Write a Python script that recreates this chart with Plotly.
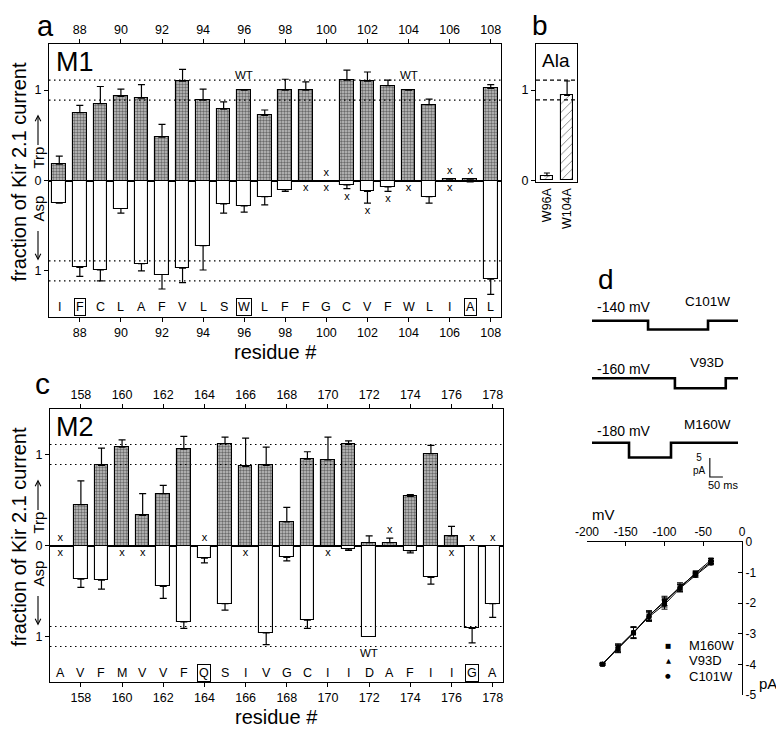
import plotly.graph_objects as go

# ---------------- data ----------------
# panel a : M1 (Trp up, Asp down), fraction of Kir2.1 current
m1_residue = [87, 88, 89, 90, 91, 92, 93, 94, 95, 96, 97, 98, 99, 100, 101, 102, 103, 104, 105, 106, 107, 108]
m1_letters = ["I", "F", "C", "L", "A", "F", "V", "L", "S", "W", "L", "F", "F", "G", "C", "V", "F", "W", "L", "I", "A", "L"]
m1_boxed = [88, 96, 107]
m1_ticks = [88, 90, 92, 94, 96, 98, 100, 102, 104, 106, 108]
m1_trp = [0.18, 0.75, 0.85, 0.93, 0.91, 0.48, 1.10, 0.89, 0.79, 1.00, 0.72, 1.00, 1.00, 0.0, 1.11, 1.10, 1.05, 1.00, 0.84, 0.015, 0.015, 1.02]
m1_trp_err = [0.09, 0.08, 0.19, 0.08, 0.15, 0.14, 0.13, 0.12, 0.08, 0.0, 0.06, 0.12, 0.09, 0.0, 0.11, 0.10, 0.06, 0.0, 0.06, 0.0, 0.0, 0.04]
m1_trp_none = [100, 106, 107]
m1_asp = [0.25, 0.96, 0.99, 0.31, 0.92, 1.04, 0.97, 0.72, 0.26, 0.28, 0.18, 0.10, 0.0, 0.0, 0.05, 0.12, 0.07, 0.0, 0.18, 0.0, 0.015, 1.09]
m1_asp_err = [0.0, 0.10, 0.12, 0.05, 0.08, 0.16, 0.16, 0.27, 0.10, 0.07, 0.09, 0.02, 0.0, 0.0, 0.04, 0.13, 0.05, 0.0, 0.07, 0.0, 0.0, 0.17]
m1_asp_none = [99, 100, 101, 102, 103, 104, 106]
m1_wt = [96, 104]

# panel c : M2
m2_residue = [157, 158, 159, 160, 161, 162, 163, 164, 165, 166, 167, 168, 169, 170, 171, 172, 173, 174, 175, 176, 177, 178]
m2_letters = ["A", "V", "F", "M", "V", "V", "F", "Q", "S", "I", "V", "G", "C", "I", "I", "D", "A", "F", "I", "I", "G", "A"]
m2_boxed = [164, 177]
m2_ticks = [158, 160, 162, 164, 166, 168, 170, 172, 174, 176, 178]
m2_trp = [0.0, 0.45, 0.88, 1.08, 0.33, 0.57, 1.06, 0.0, 1.12, 0.87, 0.88, 0.26, 0.95, 0.94, 1.11, 0.03, 0.03, 0.54, 1.01, 0.105, 0.0, 0.0]
m2_trp_err = [0.0, 0.26, 0.19, 0.08, 0.24, 0.09, 0.14, 0.0, 0.07, 0.31, 0.20, 0.16, 0.08, 0.25, 0.04, 0.075, 0.05, 0.02, 0.09, 0.105, 0.0, 0.0]
m2_trp_none = [157, 164, 173, 177, 178]
m2_asp = [0.0, 0.37, 0.38, 0.0, 0.0, 0.45, 0.84, 0.14, 0.64, 0.0, 0.96, 0.13, 0.82, 0.0, 0.04, 1.00, 0.01, 0.06, 0.35, 0.0, 0.91, 0.64]
m2_asp_err = [0.0, 0.09, 0.10, 0.0, 0.0, 0.13, 0.07, 0.05, 0.07, 0.0, 0.13, 0.04, 0.09, 0.0, 0.015, 0.0, 0.0, 0.02, 0.075, 0.0, 0.16, 0.15]
m2_asp_none = [157, 160, 161, 166, 170, 176]
m2_wt = [172]

wt_band = [0.89, 1.11]

# panel b : Ala mutants
ala_labels = ["W96A", "W104A"]
ala_values = [0.05, 0.94]
ala_err = [0.03, 0.16]

# panel d : single channel recordings
rec_names = ["C101W", "V93D", "M160W"]
rec_voltage = ["-140 mV", "-160 mV", "-180 mV"]
rec_open_ms = [215, 318, 142]
rec_close_ms = [445, 513, 303]
rec_amp_pA = [2.3, 2.6, 3.9]
rec_length_ms = 560
scale_ms = 50
scale_pA = 5

# panel d : I-V relation
iv_mv = [-180, -160, -140, -120, -100, -80, -60, -40]
iv_m160w = [-4.00, -3.50, -2.98, -2.42, -1.93, -1.50, -1.02, -0.60]
iv_v93d = [-3.98, -3.48, -2.97, -2.40, -1.98, -1.46, -1.06, -0.66]
iv_c101w = [-4.00, -3.45, -2.95, -2.45, -2.05, -1.52, -1.10, -0.70]
iv_err = [0.03, 0.12, 0.18, 0.15, 0.15, 0.12, 0.06, 0.05]
iv_xticks = [-200, -150, -100, -50, 0]
iv_yticks = [0, -1, -2, -3, -4, -5]

# ---------------- helpers ----------------
# the page body has an 8 px margin: the figure starts at page pixel (8, 8)
OFF = 8
W, H = 784 - OFF, 732 - OFF
FONT = "Liberation Sans, Arial, Helvetica, sans-serif"
SYMFONT = "DejaVu Sans, Liberation Sans, sans-serif"


def fx(p):
    return (p - OFF) / W


def fy(p):
    return 1 - (p - OFF) / H


fig = go.Figure()
annotations = []
shapes = []


def ann(text, x, y, size, xref="paper", yref="paper", angle=0, xanchor="center", yanchor="middle",
        family=FONT, **kw):
    if xref == "paper":
        x = fx(x)
    if yref == "paper":
        y = fy(y)
    annotations.append(dict(text=text, x=x, y=y, xref=xref, yref=yref, showarrow=False,
                            textangle=angle, xanchor=xanchor, yanchor=yanchor,
                            font=dict(size=size, family=family, color="black"), **kw))


def arrow(x, y_head, y_tail):
    annotations.append(dict(text="", x=fx(x), y=fy(y_head), xref="paper", yref="paper",
                            ax=0, ay=y_tail - y_head, axref="pixel", ayref="pixel",
                            showarrow=True, arrowhead=5, arrowsize=1.0, arrowwidth=1.1,
                            arrowcolor="black", standoff=0, startstandoff=0))


STIPPLE = dict(shape=".", fgcolor="#111111", bgcolor="#c2c2c2", size=3, solidity=0.5)


def mutant_panel(res, trp, trp_err, trp_none, asp, asp_err, asp_none, letters, boxed, wt, wt_y, xa, ya):
    n = len(res)
    fig.add_trace(go.Bar(
        x=res, y=trp, width=0.66, xaxis=xa, yaxis=ya, showlegend=False, hoverinfo="skip",
        marker=dict(color="white", line=dict(color="black", width=1.1), pattern=STIPPLE),
        error_y=dict(type="data", symmetric=False, array=trp_err, arrayminus=[0] * n,
                     color="black", thickness=1.2, width=3.5)))
    fig.add_trace(go.Bar(
        x=res, y=[-v for v in asp], width=0.66, xaxis=xa, yaxis=ya, showlegend=False, hoverinfo="skip",
        marker=dict(color="white", line=dict(color="black", width=1.1)),
        error_y=dict(type="data", symmetric=False, array=[0] * n, arrayminus=asp_err,
                     color="black", thickness=1.2, width=3.5)))
    xs, ys = [], []
    for r in trp_none:
        i = res.index(r)
        xs.append(r)
        ys.append(trp[i] + trp_err[i] + 0.085)
    for r in asp_none:
        i = res.index(r)
        xs.append(r)
        ys.append(-(asp[i] + asp_err[i] + 0.09))
    fig.add_trace(go.Scatter(x=xs, y=ys, mode="text", text=["x"] * len(xs), xaxis=xa, yaxis=ya,
                             textfont=dict(size=11, family=FONT, color="black"),
                             showlegend=False, hoverinfo="skip"))
    for r, L in zip(res, letters):
        extra = {}
        if r in boxed:
            extra = dict(bordercolor="black", borderwidth=1, borderpad=1)
        ann(L, r, -1.40, 12.5, xref=xa, yref=ya, **extra)
    for r in wt:
        ann("WT", r, wt_y, 11.5, xref=xa, yref=ya)
    for v in wt_band:
        for s in (1, -1):
            shapes.append(dict(type="line", xref=xa + " domain", yref=ya, x0=0, x1=1, y0=s * v, y1=s * v,
                               line=dict(color="black", width=1.2, dash="1.5px,3.5px")))


# panel a
mutant_panel(m1_residue, m1_trp, m1_trp_err, m1_trp_none, m1_asp, m1_asp_err, m1_asp_none,
             m1_letters, m1_boxed, m1_wt, 1.17, "x", "y")
# panel c
mutant_panel(m2_residue, m2_trp, m2_trp_err, m2_trp_none, m2_asp, m2_asp_err, m2_asp_none,
             m2_letters, m2_boxed, m2_wt, -1.18, "x4", "y4")

# dummy traces so the top axes render
fig.add_trace(go.Scatter(x=[None], y=[None], xaxis="x2", yaxis="y", showlegend=False, hoverinfo="skip"))
fig.add_trace(go.Scatter(x=[None], y=[None], xaxis="x5", yaxis="y4", showlegend=False, hoverinfo="skip"))

# panel b
fig.add_trace(go.Bar(
    x=ala_labels, y=ala_values, width=0.6, xaxis="x3", yaxis="y3", showlegend=False, hoverinfo="skip",
    marker=dict(color="white", line=dict(color="black", width=1.1),
                pattern=dict(shape="/", fgcolor="black", bgcolor="white", size=6, solidity=0.15)),
    error_y=dict(type="data", symmetric=False, array=ala_err, arrayminus=[0, 0],
                 color="black", thickness=1.2, width=3)))
for v in wt_band:
    shapes.append(dict(type="line", xref="x3 domain", yref="y3", x0=0, x1=1, y0=v, y1=v,
                       line=dict(color="black", width=1.1, dash="4px,3px")))

# panel d traces
rec_baseline_px = [320.7, 378.3, 442.7]
px_per_pA = 3.8
for name, o, c, a, bpx in zip(rec_names, rec_open_ms, rec_close_ms, rec_amp_pA, rec_baseline_px):
    b = -(bpx - 290) / px_per_pA
    fig.add_trace(go.Scatter(x=[0, o, c, rec_length_ms], y=[b, b - a, b, b], mode="lines",
                             line=dict(color="black", width=2.6, shape="hv"),
                             xaxis="x6", yaxis="y6", showlegend=False, hoverinfo="skip"))
sb_x0 = 452
sb_y0 = -(458 - 290) / px_per_pA
fig.add_trace(go.Scatter(x=[sb_x0, sb_x0, sb_x0 + scale_ms], y=[sb_y0, sb_y0 - scale_pA, sb_y0 - scale_pA],
                         mode="lines", line=dict(color="black", width=1.1),
                         xaxis="x6", yaxis="y6", showlegend=False, hoverinfo="skip"))

# panel d I-V
iv_series = [("M160W", iv_m160w, "square", "\u25a0"), ("V93D", iv_v93d, "triangle-up", "\u25b2"),
             ("C101W", iv_c101w, "circle", "\u25cf")]
for name, vals, sym, glyph in iv_series:
    fig.add_trace(go.Scatter(x=iv_mv, y=vals, mode="lines+markers", name=name,
                             line=dict(color="black", width=1),
                             marker=dict(symbol=sym, size=5, color="black"),
                             error_y=dict(type="data", array=iv_err, color="black", thickness=1, width=3),
                             xaxis="x7", yaxis="y7", showlegend=False, hoverinfo="skip"))
# legend (symbol + name)
for k, (name, vals, sym, glyph) in enumerate(iv_series):
    ypx = 645.5 + 15.3 * k
    ann(glyph, 668, ypx, 6.5, family=SYMFONT)
    ann(name, 687, ypx, 13, xanchor="left")

# ---------------- text ----------------
ann("a", 45, OFF, 29, yanchor="top")
ann("b", 540, OFF, 28, yanchor="top")
ann("c", 42, 383, 30)
ann("d", 606, 280, 28)
ann("M1", 54, 62, 27, xanchor="left")
ann("M2", 54, 427, 27, xanchor="left")
ann("Ala", 556, 60, 19)

for zero_px in (180.5, 545.5):
    ann("fraction of Kir 2.1 current", 18, zero_px - 8, 20, angle=-90)
    ann("Trp", 38, zero_px - 23, 15, angle=-90)
    arrow(38, zero_px - 66, zero_px - 34)
    ann("Asp", 38, zero_px + 28, 15, angle=-90)
    arrow(38, zero_px + 80, zero_px + 49)
ann("residue #", 275, 352, 20)
ann("residue #", 276, 717, 20)

for txt, vtxt, ypx_name, ypx_v in zip(rec_names, rec_voltage, [301.7, 362, 425], [307, 369, 431]):
    ann(vtxt, 595, ypx_v, 14, xanchor="left")
    ann(txt, 707, ypx_name, 13.5)
ann("5<br>pA", 708, 464, 10, xanchor="right")
ann("50 ms", 723, 485, 11)
ann("mV", 603, 514, 15)
ann("pA", 768, 683, 15)

# ---------------- axes ----------------
axis_common = dict(showgrid=False, linecolor="black", linewidth=1.2, tickcolor="black", automargin=False,
                   tickfont=dict(size=12.5, family=FONT, color="black"), ticklen=4, tickwidth=1.1)
iv_common = dict(axis_common)
iv_common.update(ticklen=4, tickfont=dict(size=12, family=FONT, color="black"))

layout = dict(
    width=W, height=H, autosize=False, margin=dict(l=0, r=0, t=0, b=0, pad=0),
    paper_bgcolor="white", plot_bgcolor="white", barmode="overlay", bargap=0,
    font=dict(family=FONT, color="black"),
    showlegend=False,
    xaxis=dict(domain=[fx(49), fx(501)], range=[86.5, 108.5], anchor="y", tickvals=m1_ticks,
               ticks="outside", showline=True, mirror=True, zeroline=False, **axis_common),
    xaxis2=dict(domain=[fx(49), fx(501)], range=[86.5, 108.5], anchor="y", overlaying="x", side="top",
                tickvals=m1_ticks, ticks="outside", showline=False, zeroline=False, **axis_common),
    yaxis=dict(domain=[fy(317), fy(44)], range=[-1.51, 1.51], anchor="x", tickvals=[-1, 0, 1],
               ticktext=["1", "0", "1"], ticks="outside", showline=True, mirror=True,
               zeroline=True, zerolinecolor="black", zerolinewidth=1.5, **axis_common),
    xaxis3=dict(domain=[fx(536), fx(577)], range=[-0.54, 1.49], anchor="y3", type="category",
                tickangle=-90, ticks="", showline=True, mirror=True, zeroline=False, **axis_common),
    yaxis3=dict(domain=[fy(182), fy(44)], range=[-0.02, 1.51], anchor="x3", tickvals=[0, 1],
                ticktext=["0", "1"], ticks="outside", showline=True, mirror=True, zeroline=False,
                **axis_common),
    xaxis4=dict(domain=[fx(50), fx(503)], range=[156.5, 178.5], anchor="y4", tickvals=m2_ticks,
                ticks="outside", showline=True, mirror=True, zeroline=False, **axis_common),
    xaxis5=dict(domain=[fx(50), fx(503)], range=[156.5, 178.5], anchor="y4", overlaying="x4", side="top",
                tickvals=m2_ticks, ticks="outside", showline=False, zeroline=False, **axis_common),
    yaxis4=dict(domain=[fy(682), fy(409)], range=[-1.50, 1.50], anchor="x4", tickvals=[-1, 0, 1],
                ticktext=["1", "0", "1"], ticks="outside", showline=True, mirror=True,
                zeroline=True, zerolinecolor="black", zerolinewidth=1.5, **axis_common),
    xaxis6=dict(domain=[fx(592), fx(738)], range=[0, rec_length_ms], anchor="y6", visible=False,
                automargin=False),
    yaxis6=dict(domain=[fy(490), fy(290)], range=[-200 / px_per_pA, 0], anchor="x6", visible=False,
                automargin=False),
    xaxis7=dict(domain=[fx(587), fx(742)], range=[-200, 0], anchor="y7", side="top",
                tickvals=iv_xticks, ticktext=[str(v) for v in iv_xticks], ticks="inside",
                showline=True, zeroline=False, **iv_common),
    yaxis7=dict(domain=[fy(695), fy(541.7)], range=[-5, 0], anchor="x7", side="right",
                tickvals=iv_yticks, ticktext=[str(v) for v in iv_yticks], ticks="inside",
                showline=True, zeroline=False, **iv_common),
    annotations=annotations,
    shapes=shapes,
)
fig.update_layout(**layout)
fig.write_html("out.html")
